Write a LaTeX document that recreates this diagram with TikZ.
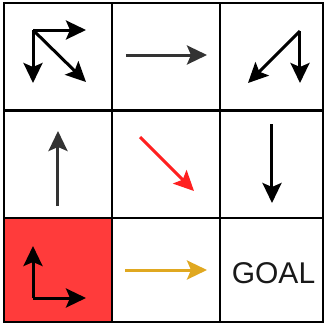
\documentclass[tikz,border=0pt]{standalone}
\usepackage{fontspec}
\setmainfont{Liberation Sans}
\usetikzlibrary{arrows.meta}
\definecolor{cellred}{HTML}{FF3B3B}
\definecolor{arrred}{HTML}{FF2020}
\definecolor{arrgold}{HTML}{E0A820}
\definecolor{arrgray}{HTML}{333333}
\tikzset{
  cell/.style={draw=black, line width=2.6pt, minimum width=108pt, minimum height=107.5pt, inner sep=0pt, outer sep=0pt},
  moveline/.style={line width=3pt, arrows={-Stealth[length=20pt, width=19pt, inset=4pt]}},
}
\begin{document}
\begin{tikzpicture}[x=1pt,y=-1pt]
\useasboundingbox (0,0) rectangle (325,325);
% grid cells
\node[cell, anchor=north west] (c00) at (4,3) {};
\node[cell, anchor=north west] (c01) at (112,3) {};
\node[cell, anchor=north west, minimum width=103pt] (c02) at (220,3) {};
\node[cell, anchor=north west] (c10) at (4,110.5) {};
\node[cell, anchor=north west] (c11) at (112,110.5) {};
\node[cell, anchor=north west, minimum width=103pt] (c12) at (220,110.5) {};
\node[cell, anchor=north west, fill=cellred, minimum height=104pt] (c20) at (4,218) {};
\node[cell, anchor=north west, minimum height=104pt] (c21) at (112,218) {};
\node[cell, anchor=north west, minimum width=103pt, minimum height=104pt] (goal) at (220,218) {};
\node[font=\fontsize{30}{30}\selectfont, text=black!90, inner sep=0pt] (goaltext) at (273.5,273) {GOAL};

% cell (0,0): right, down and diagonal
\coordinate (a0) at (33,30);
\coordinate (a0r) at (86,30);
\coordinate (a0d) at (33,83);
\coordinate (a0x) at (86,82);
\draw[moveline] (a0) -- (a0r);
\draw[moveline] (a0) -- (a0d);
\draw[moveline] (a0) -- (a0x);

% cell (0,1): right
\coordinate (b0) at (126,55);
\coordinate (b1) at (207,55);
\draw[moveline, arrgray] (b0) -- (b1);

% cell (0,2): down and down-left
\coordinate (c0) at (300,31);
\coordinate (c0d) at (300,83);
\coordinate (c0x) at (248,83);
\draw[moveline] (c0) -- (c0d);
\draw[moveline] (c0) -- (c0x);

% cell (1,0): up
\coordinate (d0) at (58,206);
\coordinate (d1) at (58,131);
\draw[moveline, arrgray] (d0) -- (d1);

% cell (1,1): diagonal, red
\coordinate (e0) at (140,137);
\coordinate (e1) at (194,191);
\draw[moveline, arrred] (e0) -- (e1);

% cell (1,2): down
\coordinate (f0) at (272,124);
\coordinate (f1) at (272,203);
\draw[moveline] (f0) -- (f1);

% cell (2,0): up and right
\coordinate (g0) at (33,298);
\coordinate (g0u) at (33,246);
\coordinate (g0r) at (86,298);
\draw[moveline] (g0) -- (g0u);
\draw[moveline] (g0) -- (g0r);

% cell (2,1): right, gold
\coordinate (h0) at (125,270);
\coordinate (h1) at (207,270);
\draw[moveline, arrgold] (h0) -- (h1);
\end{tikzpicture}
\end{document}
